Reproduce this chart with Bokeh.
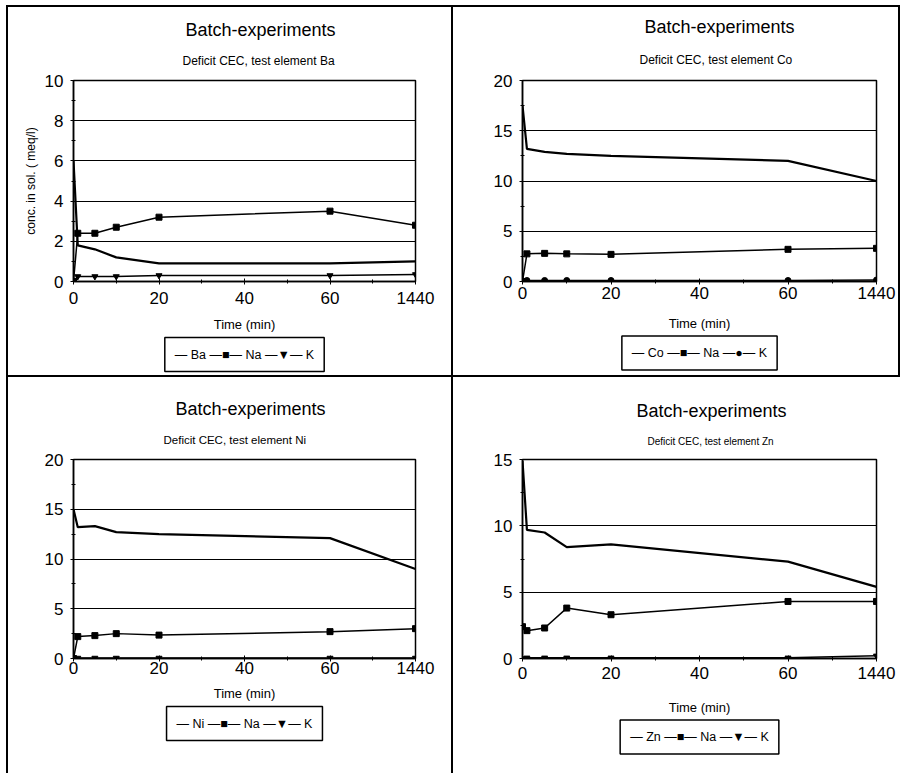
from bokeh.plotting import figure
from bokeh.models import Range1d, FixedTicker, Title
from bokeh.layouts import column, row
from bokeh.embed import file_html
from bokeh.resources import INLINE

FONT = "Liberation Sans"

# ---- data ----
times = [0, 1, 5, 10, 20, 60, 1440]          # minutes
x_tick_times = [0, 20, 40, 60, 1440]
x_tick_labels = ["0", "20", "40", "60", "1440"]

main_title = "Batch-experiments"
subtitles = ["Deficit CEC, test element Ba", "Deficit CEC, test element Co",
             "Deficit CEC, test element Ni", "Deficit CEC, test element Zn"]
elements = ["Ba", "Co", "Ni", "Zn"]
k_symbols = ["\u25bc", "\u25cf", "\u25bc", "\u25bc"]

ba_Ba = [6.0, 1.8, 1.6, 1.2, 0.9, 0.9, 1.0]
ba_Na = [0.0, 2.4, 2.4, 2.7, 3.2, 3.5, 2.8]
ba_K = [0.0, 0.25, 0.25, 0.25, 0.3, 0.3, 0.35]

co_Co = [17.5, 13.2, 12.9, 12.7, 12.5, 12.0, 10.0]
co_Na = [0.0, 2.75, 2.8, 2.75, 2.7, 3.2, 3.3]
co_K = [0.0, 0.1, 0.1, 0.1, 0.1, 0.1, 0.15]

ni_Ni = [15.0, 13.2, 13.3, 12.7, 12.5, 12.1, 9.0]
ni_Na = [0.0, 2.2, 2.3, 2.5, 2.35, 2.7, 3.0]
ni_K = [0.0, 0.05, 0.05, 0.05, 0.05, 0.05, 0.05]

zn_Zn = [14.9, 9.7, 9.5, 8.4, 8.6, 7.3, 5.4]
zn_Na = [2.4, 2.1, 2.3, 3.8, 3.3, 4.3, 4.3]
zn_K = [0.0, 0.05, 0.05, 0.05, 0.05, 0.05, 0.2]

y_max = [10, 20, 20, 15]
y_step = [2, 5, 5, 5]
y_label = "conc. in sol. ( meq/l)"

TITLE_PROPS = Title.properties()


def tkw(**kw):
    return {k: v for k, v in kw.items() if k in TITLE_PROPS}


def axis_pos(t):
    # broken time axis: linear 0..60 min, then 60..1440 min squeezed into one 20-unit step
    if t <= 60:
        return float(t)
    return 60.0 + (t - 60.0) / (1440.0 - 60.0) * 20.0


def make_panel(i, elem_vals, na_vals, k_vals, k_marker, W, H, borders, lab_standoff,
               axlab_standoff, leg_standoff, main_off, sub_off, sub_size, sub_standoff,
               shadows, ylab=None):
    left, right, top, bottom = borders
    p = figure(width=W, height=H, output_backend="svg", toolbar_location=None,
               x_range=Range1d(0, 80), y_range=Range1d(0, y_max[i]),
               min_border_left=left, min_border_right=right,
               min_border_top=top, min_border_bottom=bottom)
    p.outline_line_color = "black"
    p.outline_line_width = 1.5
    p.background_fill_color = "white"
    p.border_fill_alpha = 0.0
    if shadows:
        p.styles = {"box-shadow": ", ".join(shadows)}

    xt = [axis_pos(t) for t in x_tick_times]
    p.xaxis.ticker = FixedTicker(ticks=xt, minor_ticks=[(a + b) / 2 for a, b in zip(xt[:-1], xt[1:])])
    p.xaxis.major_label_overrides = {v: lab for v, lab in zip(xt, x_tick_labels)}
    yt = [k * y_step[i] for k in range(int(y_max[i] / y_step[i]) + 1)]
    ym = [k * y_step[i] / 2 for k in range(int(2 * y_max[i] / y_step[i]) + 1)]
    p.yaxis.ticker = FixedTicker(ticks=yt, minor_ticks=ym)
    p.xgrid.visible = False
    p.ygrid.ticker = FixedTicker(ticks=yt)
    p.ygrid.grid_line_color = "black"
    p.ygrid.grid_line_width = 1

    for ax in (p.xaxis[0], p.yaxis[0]):
        ax.axis_line_color = "black"
        ax.axis_line_width = 1.5
        ax.major_tick_line_color = "black"
        ax.minor_tick_line_color = "black"
        ax.major_tick_in = 3
        ax.major_tick_out = 3
        ax.minor_tick_in = 2
        ax.minor_tick_out = 2
        ax.major_label_text_font = FONT
        ax.major_label_text_font_size = "17px"
        ax.major_label_text_color = "black"
        ax.axis_label_text_font = FONT
        ax.axis_label_text_font_style = "normal"
        ax.axis_label_text_color = "black"
    p.xaxis.major_label_standoff = lab_standoff
    p.yaxis.major_label_standoff = 7
    p.xaxis.axis_label = "Time (min)"
    p.xaxis.axis_label_text_font_size = "13px"
    p.xaxis.axis_label_standoff = axlab_standoff
    if ylab:
        p.yaxis.axis_label = ylab
        p.yaxis.axis_label_text_font_size = "12px"
        p.yaxis.axis_label_standoff = 4

    x = [axis_pos(t) for t in times]
    p.line(x, elem_vals, line_color="black", line_width=2.2)
    p.line(x, na_vals, line_color="black", line_width=1.5)
    p.scatter(x, na_vals, marker="square", size=6, color="black")
    p.line(x, k_vals, line_color="black", line_width=1.5)
    p.scatter(x, k_vals, marker=k_marker, size=6, color="black")

    # legend box below the axis title
    leg_text = ("\u2014 " + elements[i] + " \u2014\u25a0\u2014 Na \u2014"
                + k_symbols[i] + "\u2014 K")
    p.add_layout(Title(**tkw(text=leg_text, align="center", text_font=FONT,
                             text_font_size="12.5px", text_font_style="normal",
                             text_color="black", standoff=leg_standoff,
                             border_line_color="black", border_line_width=1.5,
                             background_fill_color="white", padding=10)), "below")

    # titles: p.title is outermost, added Title is nearer to the frame
    p.title.text = main_title
    p.title.align = "left"
    p.title.offset = main_off
    p.title.text_font = FONT
    p.title.text_font_size = "18px"
    p.title.text_font_style = "normal"
    p.title.text_color = "black"
    p.title.standoff = 0
    p.add_layout(Title(**tkw(text=subtitles[i], align="left", offset=sub_off,
                             text_font=FONT, text_font_size=sub_size,
                             text_font_style="normal", text_color="black",
                             standoff=sub_standoff)), "above")
    return p


W1, W2 = 453, 452
H1, H2 = 377, 396

p1 = make_panel(0, ba_Ba, ba_Na, ba_K, "inverted_triangle", W1, H1, (73, 38, 80, 96),
                7, 10, 2, 112, 109, "12px", 25,
                ["inset 0 5px 0 0 white", "inset 6px 0 0 0 white",
                 "inset 0 7px 0 0 black", "inset 8px 0 0 0 black",
                 "inset -2px 0 0 0 black", "inset 0 -2px 0 0 black"],
                ylab=y_label)
p2 = make_panel(1, co_Co, co_Na, co_K, "circle", W2, H1, (69, 29, 80, 96),
                2, 14, 1, 122, 117, "12px", 28,
                ["inset 0 5px 0 0 white", "inset -5px 0 0 0 white",
                 "inset 0 7px 0 0 black", "inset -7px 0 0 0 black",
                 "inset 0 -2px 0 0 black"])
p3 = make_panel(2, ni_Ni, ni_Na, ni_K, "inverted_triangle", W1, H2, (73, 38, 82, 115),
                0, 9, 2, 102, 90, "11.5px", 27,
                ["inset 6px 0 0 0 white", "inset 8px 0 0 0 black",
                 "inset -2px 0 0 0 black"])
p4 = make_panel(3, zn_Zn, zn_Na, zn_K, "inverted_triangle", W2, H2, (69, 29, 82, 115),
                5, 18, 1, 114, 125, "10px", 26,
                [])

layout = column(row(p1, p2), row(p3, p4))
open("out.html", "w").write(file_html(layout, INLINE))
